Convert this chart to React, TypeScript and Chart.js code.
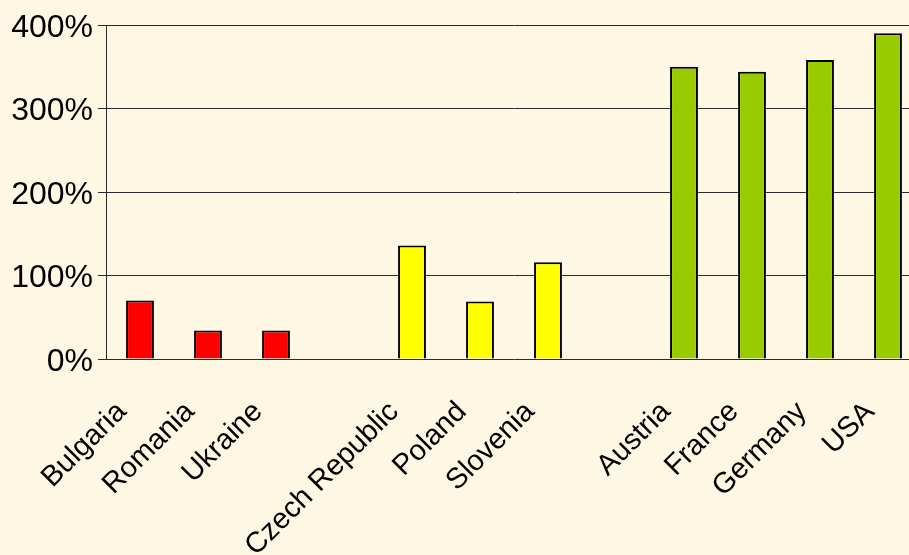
import React, { useEffect, useRef } from "react";
import { Chart, registerables } from "chart.js";

Chart.register(...registerables);

const categories = [
  "Bulgaria", "Romania", "Ukraine", "",
  "Czech Republic", "Poland", "Slovenia", "",
  "Austria", "France", "Germany", "USA",
];
const values: (number | null)[] = [
  70, 34, 34, null,
  136, 69, 116, null,
  350, 344, 358, 390,
];
const barColors = [
  "#FF0000", "#FF0000", "#FF0000", "#FFFFFF",
  "#FFFF00", "#FFFF00", "#FFFF00", "#FFFFFF",
  "#99CC00", "#99CC00", "#99CC00", "#99CC00",
];
const yTicks = [0, 100, 200, 300, 400];

const FONT = "'Liberation Sans', Arial, sans-serif";

export default function App() {
  const ref = useRef<HTMLCanvasElement>(null);
  useEffect(() => {
    if (!ref.current) return;
    const chart = new Chart(ref.current, {
      type: "bar",
      data: {
        labels: categories,
        datasets: [
          {
            data: values,
            backgroundColor: barColors,
            borderColor: "#000000",
            borderWidth: 2,
            barPercentage: 0.41,
            categoryPercentage: 1,
          },
        ],
      },
      options: {
        responsive: false,
        animation: false,
        devicePixelRatio: 1,
        layout: { padding: { top: 25, left: 0, right: 0, bottom: 0 } },
        plugins: { legend: { display: false }, tooltip: { enabled: false } },
        scales: {
          x: {
            grid: { display: false, drawTicks: false },
            border: { display: false },
            ticks: {
              maxRotation: 45,
              minRotation: 45,
              autoSkip: false,
              padding: 36,
              labelOffset: -18,
              color: "#000000",
              font: { family: FONT, size: 29 },
            },
            afterFit: (s: any) => {
              s.height = 196;
              s.paddingLeft = 0;
              s.paddingRight = 0;
            },
          },
          y: {
            min: 0,
            max: 400,
            afterBuildTicks: (s: any) => {
              s.ticks = yTicks.map((v) => ({ value: v }));
            },
            grid: {
              color: "#2a2a2a",
              lineWidth: 1,
              drawTicks: true,
              tickLength: 8,
            },
            border: { display: true, color: "#2a2a2a", width: 1 },
            ticks: {
              padding: 5,
              labelOffset: 3,
              color: "#000000",
              font: { family: FONT, size: 32 },
              callback: (v: any) => v + "%",
            },
            afterFit: (s: any) => {
              s.width = 106;
              s.paddingTop = 0;
              s.paddingBottom = 0;
            },
          },
        },
      },
    });
    return () => chart.destroy();
  }, []);
  return (
    <div
      style={{
        position: "fixed",
        left: 0,
        top: 0,
        width: 909,
        height: 555,
        overflow: "hidden",
        background: "#FDF7E4",
      }}
    >
      <canvas ref={ref} width={922} height={555} style={{ display: "block" }} />
    </div>
  );
}
